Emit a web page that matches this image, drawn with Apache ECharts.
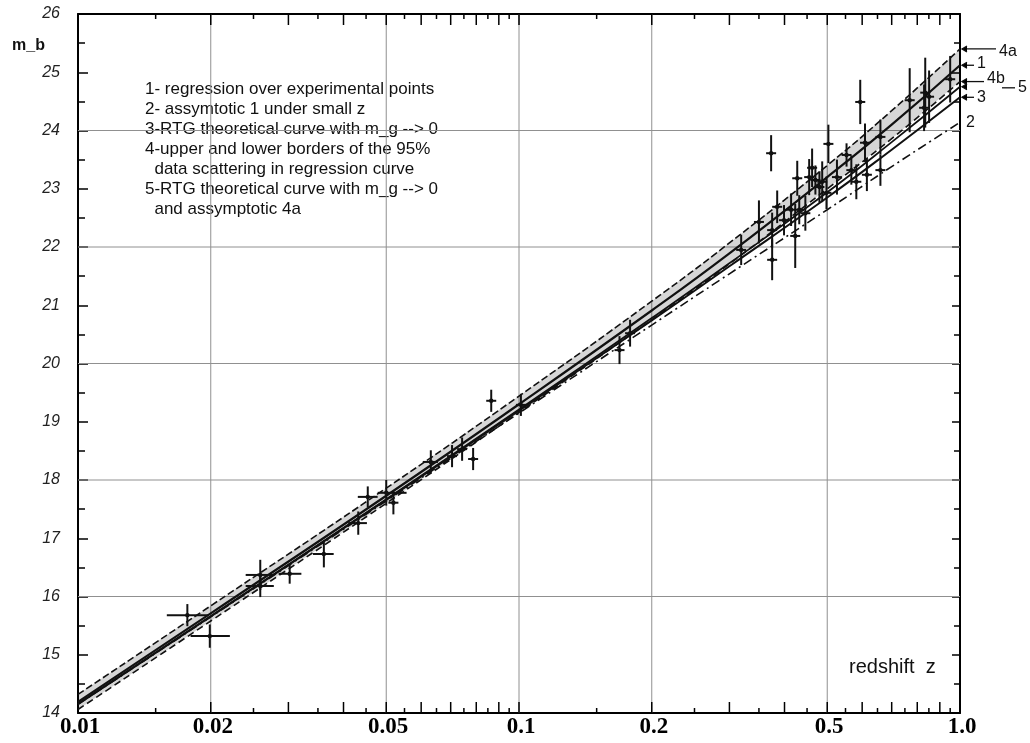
<!DOCTYPE html>
<html>
<head>
<meta charset="utf-8">
<script src="https://cdn.jsdelivr.net/npm/echarts@6/dist/echarts.min.js"></script>
<style>
  html, body { margin: 0; padding: 0; background: #fff; }
  #chart { width: 1030px; height: 743px; }
</style>
</head>
<body>
<div id="chart"></div>
<script>
const curveZ = [0.01, 0.02, 0.05, 0.1, 0.2, 0.3, 0.5, 0.7, 1.0]
const curve1 = [14.19, 15.71, 17.73, 19.30, 20.91, 21.89, 23.20, 24.10, 25.12] // regression
const curve2 = [14.15, 15.65, 17.64, 19.15, 20.66, 21.54, 22.64, 23.38, 24.14] // asymptotic
const curve3 = [14.15, 15.66, 17.66, 19.19, 20.74, 21.67, 22.85, 23.67, 24.57] // RTG m_g -> 0
const curve4a = [14.32, 15.84, 17.86, 19.44, 21.07, 22.07, 23.40, 24.34, 25.40] // upper border
const curve4b = [14.06, 15.58, 17.60, 19.16, 20.75, 21.71, 23.00, 23.86, 24.84] // lower border
const curve5 = [14.16, 15.66, 17.67, 19.21, 20.78, 21.72, 22.94, 23.80, 24.75] // RTG + 4a

// experimental points: redshift, m_b, m_b error, redshift range (null = no range)
const pointZ = [0.0177, 0.0199, 0.0259, 0.0259, 0.0302, 0.0361, 0.0432, 0.0454, 0.0500, 0.0519,
  0.0631, 0.0705, 0.0743, 0.0787, 0.0865, 0.101, 0.169, 0.1786,
  0.319, 0.350, 0.373, 0.375, 0.375, 0.385, 0.399, 0.414, 0.423, 0.4275, 0.432, 0.446, 0.455,
  0.462, 0.470, 0.480, 0.487, 0.498, 0.503, 0.526, 0.553, 0.567, 0.582, 0.594, 0.609, 0.615,
  0.660, 0.660, 0.769, 0.834, 0.851, 0.829, 0.950]
const pointM = [15.68, 15.32, 16.37, 16.18, 16.39, 16.73, 17.26, 17.71, 17.78, 17.61,
  18.31, 18.41, 18.53, 18.36, 19.36, 19.29, 20.23, 20.52,
  21.95, 22.43, 23.61, 22.29, 21.78, 22.69, 22.46, 22.64, 22.19, 23.18, 22.64, 22.58, 23.20,
  23.36, 23.15, 23.03, 23.12, 22.93, 23.77, 23.20, 23.58, 23.32, 23.12, 24.49, 23.79, 23.24,
  23.89, 23.32, 24.52, 24.65, 24.58, 24.39, 24.88]
const pointErr = [0.19, 0.20, 0.26, 0.19, 0.17, 0.23, 0.20, 0.18, 0.22, 0.20,
  0.20, 0.19, 0.20, 0.19, 0.19, 0.19, 0.24, 0.23,
  0.26, 0.37, 0.31, 0.30, 0.35, 0.28, 0.26, 0.28, 0.55, 0.30, 0.25, 0.30, 0.31,
  0.33, 0.25, 0.27, 0.35, 0.28, 0.33, 0.30, 0.20, 0.25, 0.30, 0.38, 0.33, 0.28,
  0.30, 0.27, 0.55, 0.60, 0.45, 0.40, 0.40]
const pointZLo = [0.0159, 0.0180, 0.0240, 0.0240, 0.0285, 0.0341, 0.0410, 0.0431, 0.0478, null,
  0.0605]
const pointZHi = [0.0198, 0.0221, 0.0278, 0.0278, 0.0321, 0.0380, 0.0452, 0.0478, 0.0556, null,
  0.0655]

// axis furniture
const yGridValues = [16, 18, 20, 22, 24]
const xGridValues = [0.02, 0.05, 0.1, 0.2, 0.5]
const xLabelValues = [0.01, 0.02, 0.05, 0.1, 0.2, 0.5, 1.0]
const xLabelTexts = ['0.01', '0.02', '0.05', '0.1', '0.2', '0.5', '1.0']
const xLongTicks = [0.02, 0.03, 0.04, 0.05, 0.06, 0.07, 0.08, 0.09, 0.1,
  0.2, 0.3, 0.4, 0.5, 0.6, 0.7, 0.8, 0.9]
const xShortTicks = [0.015, 0.025, 0.035, 0.045, 0.055, 0.065, 0.075, 0.085, 0.095,
  0.15, 0.25, 0.35, 0.45, 0.55, 0.65, 0.75, 0.85, 0.95]

const curveNames = ['4a', '1', '4b', '5', '3', '2']
const curveEnds = [curve4a, curve1, curve4b, curve5, curve3, curve2].map(c => c[c.length - 1])

const legendLines = [
  '1- regression over experimental points',
  '2- assymtotic 1 under small z',
  '3-RTG theoretical curve with m_g --> 0',
  '4-upper and lower borders of the 95%',
  '  data scattering in regression curve',
  '5-RTG theoretical curve with m_g --> 0',
  '  and assymptotic 4a'
]

// layout of the arrows at the right end: [arrow length, text dx, text dy, extra dash]
const endMarks = {
  '4a': [34, 37, 3, false],
  '1': [12, 15, -2, false],
  '4b': [22, 25, -3, false],
  '5': [5, 56, 1, true],
  '3': [12, 15, 0, false],
  '2': [0, 4, 0, false]
}

const zip = (xs, ys) => xs.map((x, i) => [x, ys[i]])

const points = pointZ.map((z, i) => [
  z, pointM[i], pointErr[i],
  pointZLo[i] == null ? z : pointZLo[i],
  pointZHi[i] == null ? z : pointZHi[i]
])

const chart = echarts.init(document.getElementById('chart'))

function renderGridLine(params, api) {
  const v = api.value(0)
  const vertical = api.value(1) === 1
  const a = vertical ? api.coord([v, 14]) : api.coord([0.01, v])
  const b = vertical ? api.coord([v, 26]) : api.coord([1, v])
  return {
    type: 'line',
    shape: { x1: a[0], y1: a[1], x2: b[0], y2: b[1] },
    style: { stroke: '#909090', lineWidth: 1 }
  }
}

function renderTick(params, api) {
  const z = api.value(0)
  const len = api.value(1)
  const bot = api.coord([z, 14])
  const top = api.coord([z, 26])
  return {
    type: 'group',
    children: [
      { type: 'line', shape: { x1: bot[0], y1: bot[1], x2: bot[0], y2: bot[1] - len }, style: { stroke: '#000', lineWidth: 1.5 } },
      { type: 'line', shape: { x1: top[0], y1: top[1], x2: top[0], y2: top[1] + len }, style: { stroke: '#000', lineWidth: 1.5 } }
    ]
  }
}

function renderXLabel(params, api) {
  const p = api.coord([api.value(0), 14])
  return {
    type: 'text',
    x: p[0] + 2,
    y: p[1] + 3,
    style: {
      text: xLabelTexts[params.dataIndex],
      fontFamily: 'Liberation Serif',
      fontWeight: 'bold',
      fontSize: 23,
      fill: '#000',
      align: 'center',
      verticalAlign: 'top'
    }
  }
}

// gray 95% band between the 4a and 4b borders
function renderBand(params, api) {
  const upper = curveZ.map((z, i) => api.coord([z, curve4a[i]]))
  const lower = curveZ.map((z, i) => api.coord([z, curve4b[i]])).reverse()
  return {
    type: 'polygon',
    shape: { points: upper.concat(lower) },
    style: { fill: 'rgba(0,0,0,0.16)' }
  }
}

function renderPoint(params, api) {
  const c = api.coord([api.value(0), api.value(1)])
  const e = api.value(2)
  const lo = api.coord([api.value(3), api.value(1)])
  const hi = api.coord([api.value(4), api.value(1)])
  const up = api.coord([api.value(0), api.value(1) + e])
  const dn = api.coord([api.value(0), api.value(1) - e])
  const x1 = Math.min(lo[0], c[0] - 5)
  const x2 = Math.max(hi[0], c[0] + 5)
  const st = { stroke: '#111', lineWidth: 2 }
  return {
    type: 'group',
    children: [
      { type: 'line', shape: { x1: c[0], y1: up[1], x2: c[0], y2: dn[1] }, style: st },
      { type: 'line', shape: { x1: x1, y1: c[1], x2: x2, y2: c[1] }, style: st },
      { type: 'circle', shape: { cx: c[0], cy: c[1], r: 2.2 }, style: { fill: '#111' } }
    ]
  }
}

function renderEndMark(params, api) {
  const p = api.coord([1, api.value(1)])
  const name = curveNames[params.dataIndex]
  const m = endMarks[name]
  const x0 = p[0] + 2
  const y = p[1]
  const st = { stroke: '#111', lineWidth: 1.3 }
  const kids = []
  if (m[0] > 0) {
    kids.push({ type: 'line', shape: { x1: x0, y1: y, x2: x0 + m[0], y2: y }, style: st })
    kids.push({ type: 'polyline', shape: { points: [[x0 + 5, y - 3], [x0, y], [x0 + 5, y + 3]] }, style: st })
  }
  if (m[3]) {
    kids.push({ type: 'line', shape: { x1: x0 + 40, y1: y + 1, x2: x0 + 53, y2: y + 1 }, style: st })
  }
  kids.push({
    type: 'text',
    x: x0 + m[1],
    y: y + m[2],
    style: { text: name, fontFamily: 'Liberation Sans', fontSize: 16, fill: '#111', verticalAlign: 'middle' }
  })
  return { type: 'group', children: kids }
}

const lineSeries = (name, data, style) => ({
  name: name,
  type: 'line',
  data: zip(curveZ, data),
  smooth: true,
  showSymbol: false,
  silent: true,
  z: 4,
  lineStyle: Object.assign({ color: '#111', width: 2 }, style)
})

const option = {
  animation: false,
  backgroundColor: '#fff',
  grid: { left: 78, top: 14, right: 70, bottom: 30 },
  xAxis: [
    {
      type: 'log', logBase: 10, min: 0.01, max: 1,
      axisLine: { lineStyle: { color: '#000', width: 2 } },
      axisTick: { show: false }, axisLabel: { show: false }, splitLine: { show: false }
    },
    {
      type: 'log', logBase: 10, min: 0.01, max: 1, position: 'top',
      axisLine: { lineStyle: { color: '#000', width: 2 } },
      axisTick: { show: false }, axisLabel: { show: false }, splitLine: { show: false }
    }
  ],
  yAxis: [
    {
      type: 'value', min: 14, max: 26, interval: 1,
      axisLine: { show: true, lineStyle: { color: '#000', width: 2 } },
      axisTick: { inside: true, length: 10, lineStyle: { color: '#000', width: 1.5 } },
      minorTick: { show: true, splitNumber: 2, length: 7, lineStyle: { color: '#000', width: 1.5 } },
      axisLabel: { fontFamily: 'Liberation Sans', fontStyle: 'italic', fontSize: 16, color: '#222', margin: 18 },
      splitLine: { show: false }
    },
    {
      type: 'value', min: 14, max: 26, interval: 1, position: 'right',
      axisLine: { show: true, lineStyle: { color: '#000', width: 2 } },
      axisTick: { inside: true, length: 8, lineStyle: { color: '#000', width: 1.5 } },
      minorTick: { show: true, splitNumber: 2, length: 6, lineStyle: { color: '#000', width: 1.5 } },
      axisLabel: { show: false },
      splitLine: { show: false }
    }
  ],
  graphic: [
    { type: 'text', left: 12, top: 38, style: { text: 'm_b', fontFamily: 'Liberation Sans', fontWeight: 'bold', fontSize: 16, fill: '#111' } },
    { type: 'text', left: 849, top: 657, style: { text: 'redshift  z', fontFamily: 'Liberation Sans', fontSize: 20, fill: '#111' } }
  ].concat(legendLines.map((t, i) => ({
    type: 'text', left: 145, top: 81 + i * 20,
    style: { text: t, fontFamily: 'Liberation Sans', fontSize: 17, fill: '#111' }
  }))),
  series: [
    {
      type: 'custom', silent: true, z: 1,
      renderItem: renderGridLine,
      data: yGridValues.map(v => [v, 0]).concat(xGridValues.map(v => [v, 1])),
      encode: { x: -1, y: -1 }
    },
    {
      type: 'custom', silent: true, z: 2,
      renderItem: renderTick,
      data: xLongTicks.map(z => [z, 11]).concat(xShortTicks.map(z => [z, 5])),
      encode: { x: 0, y: -1 }
    },
    {
      type: 'custom', silent: true, z: 2,
      renderItem: renderXLabel,
      data: xLabelValues.map(z => [z]),
      encode: { x: 0, y: -1 }
    },
    {
      type: 'custom', silent: true, z: 3,
      renderItem: renderBand,
      data: [[0.1, 20]],
      encode: { x: 0, y: 1 }
    },
    lineSeries('4a', curve4a, { width: 1.6, type: [7, 3] }),
    lineSeries('4b', curve4b, { width: 1.6, type: [7, 4] }),
    lineSeries('1', curve1, { width: 2.2 }),
    lineSeries('5', curve5, { width: 1.8 }),
    lineSeries('3', curve3, { width: 2 }),
    lineSeries('2', curve2, { width: 1.6, type: [9, 4, 2, 4] }),
    {
      type: 'custom', silent: true, z: 6,
      renderItem: renderPoint,
      data: points,
      encode: { x: 0, y: 1 }
    },
    {
      type: 'custom', silent: true, z: 6,
      renderItem: renderEndMark,
      data: curveEnds.map(v => [1, v]),
      encode: { x: 0, y: 1 }
    }
  ]
}

chart.setOption(option)
</script>
</body>
</html>
